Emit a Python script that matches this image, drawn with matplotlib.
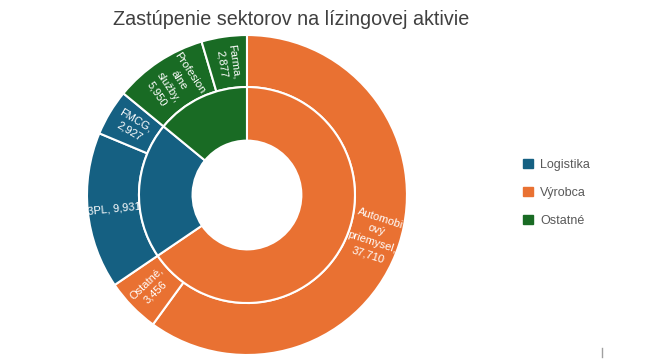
import numpy as np
import matplotlib.pyplot as plt
from matplotlib.lines import Line2D

plt.rcParams['font.family'] = ['Liberation Sans', 'DejaVu Sans']

# inner ring (sectors) and outer ring (sub-sectors), clockwise from top
groups = ['Výrobca', 'Logistika', 'Ostatné']
group_colors = ['#E97132', '#156082', '#196B24']
sub_labels = ['Automobi\nový\npriemysel,', 'Ostatné,', '3PL,', 'FMCG,', 'Profesion\nálne\nslužby,', 'Farma,']
sub_values = [37710, 3456, 9931, 2927, 5950, 2877]
sub_group = [0, 0, 1, 1, 2, 2]
legend_order = ['Logistika', 'Výrobca', 'Ostatné']

group_values = [sum(v for v, g in zip(sub_values, sub_group) if g == i) for i in range(len(groups))]
sub_colors = [group_colors[g] for g in sub_group]

fig = plt.figure(figsize=(6.55, 3.62), dpi=100)
ax = fig.add_axes([0.1328, 0.0193, 0.4885, 0.884])
ax.axis('off')

wp = dict(edgecolor='white', linewidth=1.5)
ax.pie(sub_values, radius=1.0, colors=sub_colors, startangle=90, counterclock=False,
       wedgeprops=dict(width=0.325, **wp))
ax.pie(group_values, radius=0.675, colors=group_colors, startangle=90, counterclock=False,
       wedgeprops=dict(width=0.335, **wp))
ax.set_xlim(-1, 1)
ax.set_ylim(-1, 1)

# labels on the outer ring, rotated radially
total = sum(sub_values)
cum = 0
for lab, v in zip(sub_labels, sub_values):
    mid = 90 - (cum + v / 2) / total * 360
    cum += v
    a = np.deg2rad(mid)
    r = 0.835
    rot = mid
    if np.cos(a) < 0:
        rot = mid + 180
    rot = (rot + 180) % 360 - 180
    if lab == '3PL,':
        txt = '3PL, {:,}'.format(v)
    else:
        txt = lab + '\n{:,}'.format(v)
    ax.text(r * np.cos(a), r * np.sin(a), txt, rotation=rot, rotation_mode='anchor',
            ha='center', va='center', color='white', fontsize=8, linespacing=1.35)

fig.text(0.445, 0.946, 'Zastúpenie sektorov na lízingovej aktivie', ha='center', va='center',
         fontsize=14.2, color='#404040')

handles = [plt.Rectangle((0, 0), 1, 1, color=group_colors[groups.index(g)]) for g in legend_order]
fig.legend(handles, legend_order, loc='center left', bbox_to_anchor=(0.782, 0.467), frameon=False,
           fontsize=9, labelcolor='#595959', handlelength=0.75, handleheight=0.75,
           labelspacing=1.3, handletextpad=0.6)

fig.add_artist(Line2D([0.919, 0.919], [0.015, 0.04], color='#a0a0a0', linewidth=1))

fig.savefig('out.png', dpi=100)
